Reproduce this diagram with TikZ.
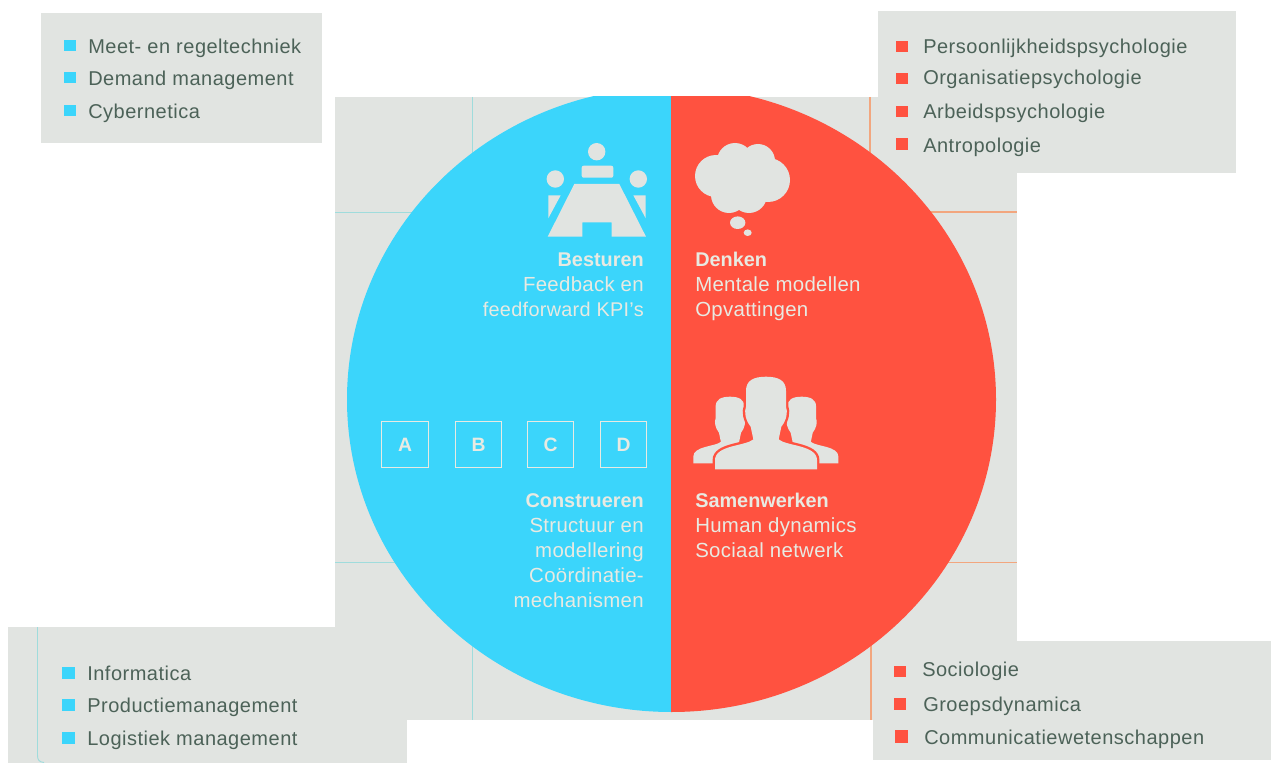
\documentclass[tikz,border=0pt]{standalone}
\usepackage{fontspec}
\setmainfont{Liberation Sans}
\newfontfamily\listfont[LetterSpace=2.5]{Liberation Sans}
\newfontfamily\circfont[LetterSpace=1.5]{Liberation Sans}
\definecolor{panelgray}{HTML}{E1E4E1}
\definecolor{cblue}{HTML}{3BD5FB}
\definecolor{cred}{HTML}{FF5240}
\definecolor{ltxt}{HTML}{4C6258}
\definecolor{ctxt}{HTML}{E8EAE2}
\definecolor{tealline}{HTML}{9FDCDC}
\definecolor{orgline}{HTML}{F2A67E}
\tikzset{
  panel/.style={fill=panelgray,draw=none},
  listtext/.style={anchor=base west,inner sep=0pt,text=ltxt,font=\fontsize{15}{18}\listfont},
  bullb/.style={fill=cblue,draw=none},
  bullr/.style={fill=cred,draw=none},
  ctitle/.style={inner sep=0pt,text=ctxt,font=\fontsize{14.9}{18}\selectfont\bfseries},
  cbody/.style={inner sep=0pt,text=ctxt,font=\fontsize{15.3}{18}\circfont},
  icon/.style={fill=panelgray,draw=none},
  letterbox/.style={draw=ctxt,line width=0.9pt,minimum width=35pt,minimum height=35pt,inner sep=0pt,text=ctxt,font=\fontsize{14.5}{15}\selectfont\bfseries},
  teal/.style={draw=tealline,line width=0.7pt},
  org/.style={draw=orgline,line width=0.8pt}
}
\newcommand{\personpath}{(0,0) .. controls (-38,0) and (-60,12) .. (-60,42) -- (-60,90)
  .. controls (-66,105) and (-62,130) .. (-46,150) -- (-38,188)
  .. controls (-60,208) and (-153,205) .. (-153,250) -- (-153,278) -- (153,278) -- (153,250)
  .. controls (153,205) and (60,208) .. (38,188) -- (46,150)
  .. controls (62,130) and (66,105) .. (60,90) -- (60,42)
  .. controls (60,12) and (38,0) .. (0,0) -- cycle}
\begin{document}
\begin{tikzpicture}[x=0.75pt,y=-0.75pt]
\useasboundingbox (0,0) rectangle (1271,763);
% panels
\fill[panel] (335,97) rectangle (1017,720);
\fill[panel] (41,13) rectangle (322,143);
\fill[panel] (878,11) rectangle (1236,173);
\fill[panel] (8,627) rectangle (407,763);
\fill[panel] (873,641) rectangle (1271,760);
% grid lines
\draw[teal] (472,97) -- (472,160);
\draw[teal] (335,212) -- (415,212);
\draw[teal] (335,562.5) -- (400,562.5);
\draw[teal] (472,640) -- (472,720);
\draw[teal] (37.5,627) -- (37.5,755) .. controls (37.5,760) and (39,762) .. (44,762.5);
\draw[org] (870,97) -- (870,160);
\draw[org] (925,212) -- (1017,212);
\draw[org] (940,562.5) -- (1017,562.5);
\draw[org] (871,640) -- (871,720);
% disc
\begin{scope}
\clip (300,97) rectangle (671,760);
\fill[cblue] (671.5,399.5) ellipse [x radius=324.5,y radius=312.5];
\end{scope}
\begin{scope}
\clip (671,97) rectangle (1040,760);
\fill[cred] (671.5,399.5) ellipse [x radius=324.5,y radius=312.5];
\end{scope}
% table icon
\fill[icon] (596.7,151.7) circle [radius=8.7];
\fill[icon] (555.3,179) circle [radius=8.7];
\fill[icon] (638.3,179) circle [radius=8.7];
\fill[icon,rounded corners=1.5pt] (581.7,165.7) rectangle (613.3,177.7);
\fill[icon] (574.3,184) -- (619.3,184) -- (646,236.7) -- (611.7,236.7) -- (611.7,222.3) -- (582.3,222.3) -- (582.3,236.7) -- (547.7,236.7) -- cycle;
\fill[icon] (548.3,195.3) -- (560.7,195.3) -- (548.3,218.3) -- cycle;
\fill[icon] (645.7,195.3) -- (633.3,195.3) -- (645.7,218.3) -- cycle;
% cloud icon
\fill[icon] (735,161) circle [radius=18];
\fill[icon] (758,161) circle [radius=17];
\fill[icon] (716,176) circle [radius=21];
\fill[icon] (768,180) circle [radius=22];
\fill[icon] (729,195) circle [radius=18];
\fill[icon] (749,195) circle [radius=18];
\fill[icon] (742,177) circle [radius=25];
\fill[icon] (737.7,222.7) ellipse [x radius=7.7,y radius=6.3];
\fill[icon] (747.7,232.7) ellipse [x radius=4,y radius=3.3];
% people icon
\begin{scope}[shift={(730,396.7)},x=0.18pt,y=-0.18pt]
\fill[icon] \personpath;
\end{scope}
\begin{scope}[shift={(801.7,396.7)},x=0.18pt,y=-0.18pt]
\fill[icon] \personpath;
\end{scope}
\begin{scope}[shift={(766,376.7)},x=0.25pt,y=-0.25pt]
\draw[draw=cred,line width=3.6pt] \personpath;
\fill[icon] \personpath;
\end{scope}
% letter boxes
\node[letterbox] (boxa) at (405,444.5) {A};
\node[letterbox] (boxb) at (478.5,444.5) {B};
\node[letterbox] (boxc) at (550.5,444.5) {C};
\node[letterbox] (boxd) at (623.5,444.5) {D};
% circle texts
\node[ctitle,anchor=base east] (t1) at (644,266) {Besturen};
\node[cbody,anchor=base east] (t2) at (644,291) {Feedback en};
\node[cbody,anchor=base east,font=\fontsize{14.9}{18}\circfont] (t3) at (644,316) {feedforward KPI’s};
\node[ctitle,anchor=base west] (t4) at (695,266) {Denken};
\node[cbody,anchor=base west] (t5) at (695,291) {Mentale modellen};
\node[cbody,anchor=base west] (t6) at (695,316) {Opvattingen};
\node[ctitle,anchor=base east] (t7) at (644,507) {Construeren};
\node[cbody,anchor=base east] (t8) at (644,532) {Structuur en};
\node[cbody,anchor=base east] (t9) at (644,557) {modellering};
\node[cbody,anchor=base east] (t10) at (644,582) {Coördinatie-};
\node[cbody,anchor=base east] (t11) at (644,607) {mechanismen};
\node[ctitle,anchor=base west] (t12) at (695,507) {Samenwerken};
\node[cbody,anchor=base west] (t13) at (695,532) {Human dynamics};
\node[cbody,anchor=base west] (t14) at (695,557) {Sociaal netwerk};
% top-left list
\fill[bullb] (64,40) rectangle (76,51);
\fill[bullb] (64,72) rectangle (76,83);
\fill[bullb] (64,105) rectangle (76,116);
\node[listtext] (l1) at (88,54) {Meet- en regeltechniek};
\node[listtext] (l2) at (88,86) {Demand management};
\node[listtext] (l3) at (88,119) {Cybernetica};
% top-right list
\fill[bullr] (896,41) rectangle (908,52);
\fill[bullr] (896,73) rectangle (908,84);
\fill[bullr] (896,106) rectangle (908,117);
\fill[bullr] (896,138) rectangle (908,150);
\node[listtext] (r1) at (923,54) {Persoonlijkheidspsychologie};
\node[listtext] (r2) at (923,85) {Organisatiepsychologie};
\node[listtext] (r3) at (923,119) {Arbeidspsychologie};
\node[listtext] (r4) at (923,153) {Antropologie};
% bottom-left list
\fill[bullb] (62,667) rectangle (75,679);
\fill[bullb] (62,699) rectangle (75,711);
\fill[bullb] (62,732) rectangle (75,744);
\node[listtext] (b1) at (87,680) {Informatica};
\node[listtext] (b2) at (87,712) {Productiemanagement};
\node[listtext] (b3) at (87,745) {Logistiek management};
% bottom-right list
\fill[bullr] (894,666) rectangle (906,677);
\fill[bullr] (894,698) rectangle (906,710);
\fill[bullr] (895,730) rectangle (908,743);
\node[listtext] (c1) at (922,676) {Sociologie};
\node[listtext] (c2) at (923,711) {Groepsdynamica};
\node[listtext] (c3) at (924,744) {Communicatiewetenschappen};
\end{tikzpicture}
\end{document}
